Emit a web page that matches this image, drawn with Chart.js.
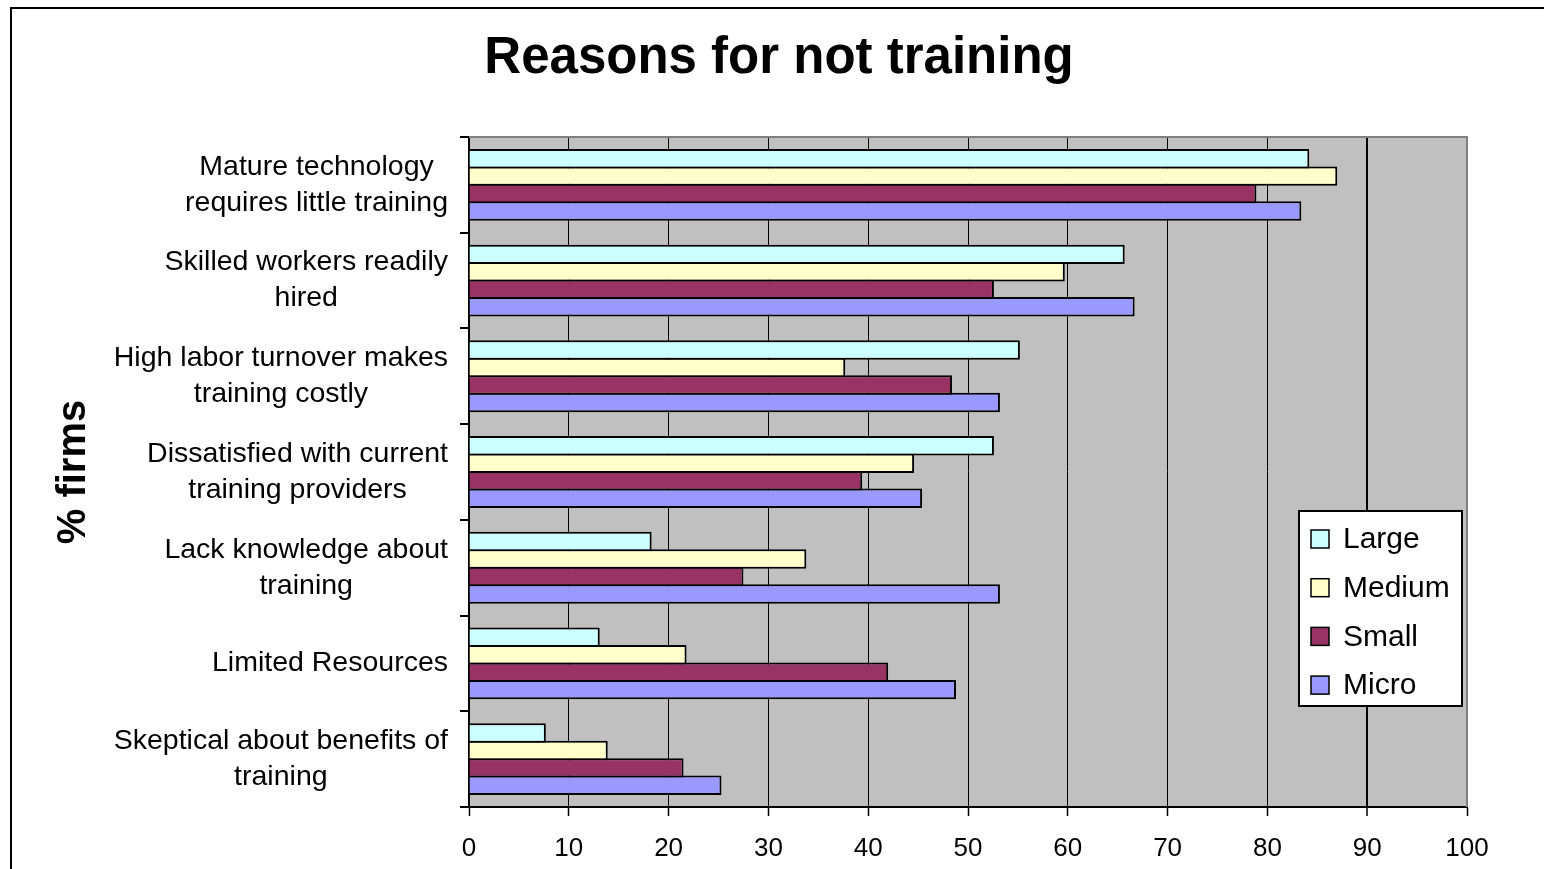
<!DOCTYPE html>
<html>
<head>
<meta charset="utf-8">
<title>Reasons for not training</title>
<script src="https://cdn.jsdelivr.net/npm/chart.js@4.4.1/dist/chart.umd.min.js"></script>
<style>
  html, body { margin: 0; padding: 0; background: #fff; }
  #wrap { width: 1544px; height: 869px; position: relative; }
</style>
</head>
<body>
<div id="wrap"><canvas id="reasonsChart" width="1544" height="869"></canvas></div>
<script>
// ── Data ─────────────────────────────────────────────────────────
const CHART_TITLE = 'Reasons for not training';
const REASONS = [
    ['Mature technology', 'requires little training'],
    ['Skilled workers readily', 'hired'],
    ['High labor turnover makes', 'training costly'],
    ['Dissatisfied with current', 'training providers'],
    ['Lack knowledge about', 'training'],
    ['Limited Resources'],
    ['Skeptical about benefits of', 'training']
];
const SERIES_NAMES = ['Large', 'Medium', 'Small', 'Micro'];
const LARGE  = [84.2, 65.7, 55.2, 52.6, 18.3, 13.1, 7.7];
const MEDIUM = [87.0, 59.7, 37.7, 44.6, 33.8, 21.8, 13.9];
const SMALL  = [78.9, 52.6, 48.4, 39.4, 27.5, 42.0, 21.5];
const MICRO  = [83.4, 66.7, 53.2, 45.4, 53.2, 48.8, 25.3];
const X_MIN = 0, X_MAX = 100, X_STEP = 10;

const COLORS = ['#CCFFFF', '#FFFFCC', '#993366', '#9999FF'];
const FONT = '"Liberation Sans", Arial, Helvetica, sans-serif';

// ── Plot frame: grey fill, outer border, grey top/right edge, title ──
const framePlugin = {
    id: 'frame',
    beforeDraw(chart) {
        const { ctx, chartArea: a } = chart;
        ctx.save();
        ctx.fillStyle = '#C0C0C0';
        ctx.fillRect(a.left, a.top, a.right - a.left, a.bottom - a.top);
        // outer chart border (left + top)
        ctx.strokeStyle = '#000';
        ctx.lineWidth = 2;
        ctx.beginPath();
        ctx.moveTo(11, chart.height);
        ctx.lineTo(11, 8);
        ctx.lineTo(chart.width, 8);
        ctx.stroke();
        // title, centred over the whole chart box
        ctx.fillStyle = '#000';
        ctx.font = 'bold 51px ' + FONT;
        ctx.textAlign = 'center';
        ctx.textBaseline = 'middle';
        ctx.fillText(CHART_TITLE, 779, 59);
        ctx.restore();
    },
    afterDatasetsDraw(chart) {
        const { ctx, chartArea: a } = chart;
        ctx.save();
        ctx.strokeStyle = '#808080';
        ctx.lineWidth = 2;
        ctx.beginPath();
        ctx.moveTo(a.left, a.top);
        ctx.lineTo(a.right, a.top);
        ctx.lineTo(a.right, a.bottom);
        ctx.stroke();
        ctx.restore();
    }
};

// ── Category labels: block right-aligned, lines centred ─────────
const categoryLabelPlugin = {
    id: 'categoryLabels',
    afterDraw(chart) {
        const { ctx } = chart;
        const scale = chart.scales.y;
        const right = chart.chartArea.left - 21;
        const lineH = 36;
        ctx.save();
        ctx.font = '28.5px ' + FONT;
        ctx.fillStyle = '#000';
        ctx.textAlign = 'center';
        ctx.textBaseline = 'middle';
        chart.data.labels.forEach((lines, i) => {
            const y = scale.getPixelForTick(i);
            const w = Math.max(...lines.map(l => ctx.measureText(l).width));
            const cx = right - w / 2;
            const y0 = y - (lines.length - 1) * lineH / 2;
            lines.forEach((l, j) => ctx.fillText(l, cx, y0 + j * lineH));
        });
        ctx.restore();
    }
};

// ── Boxed legend inside the plot area ───────────────────────────
const boxLegendPlugin = {
    id: 'boxLegend',
    afterDraw(chart) {
        const { ctx, chartArea: a } = chart;
        const w = 163, h = 195;
        const x = a.right - 5 - w, y = a.bottom - 101 - h;
        ctx.save();
        ctx.fillStyle = '#fff';
        ctx.fillRect(x, y, w, h);
        ctx.strokeStyle = '#000';
        ctx.lineWidth = 2;
        ctx.strokeRect(x, y, w, h);
        ctx.font = '30px ' + FONT;
        ctx.textBaseline = 'middle';
        ctx.textAlign = 'left';
        chart.data.datasets.forEach((ds, i) => {
            const cy = y + 28 + i * 48.7;
            ctx.fillStyle = ds.backgroundColor;
            ctx.fillRect(x + 12, cy - 9, 18, 18);
            ctx.lineWidth = 1.5;
            ctx.strokeRect(x + 12, cy - 9, 18, 18);
            ctx.fillStyle = '#000';
            ctx.fillText(ds.label, x + 44, cy + 1);
        });
        ctx.restore();
    }
};

const seriesData = [LARGE, MEDIUM, SMALL, MICRO];

new Chart(document.getElementById('reasonsChart'), {
    type: 'bar',
    data: {
        labels: REASONS,
        datasets: SERIES_NAMES.map((name, i) => ({
            label: name,
            data: seriesData[i],
            backgroundColor: COLORS[i],
            borderColor: '#000',
            borderWidth: 2,
            categoryPercentage: 0.73,
            barPercentage: 1.115
        }))
    },
    options: {
        indexAxis: 'y',
        responsive: false,
        animation: false,
        layout: { padding: { left: 10, right: 77, top: 137, bottom: 0 } },
        plugins: {
            legend: { display: false },
            tooltip: { enabled: false },
            title: { display: false }
        },
        scales: {
            x: {
                min: X_MIN, max: X_MAX,
                ticks: {
                    stepSize: X_STEP,
                    color: '#000',
                    padding: 17,
                    maxRotation: 0,
                    font: { family: FONT, size: 26 }
                },
                grid: {
                    color: c => c.tick && c.tick.value === X_MAX ? 'rgba(0,0,0,0)' : '#000',
                    lineWidth: c => c.tick && c.tick.value === 90 ? 2 : 1,
                    tickColor: '#000',
                    tickWidth: 1.5,
                    tickLength: 9
                },
                border: { color: '#000', width: 2 },
                afterFit(scale) { scale.height = 62; }
            },
            y: {
                ticks: { display: false },
                grid: {
                    drawOnChartArea: false,
                    drawTicks: true,
                    tickLength: 9,
                    color: '#000',
                    lineWidth: 2
                },
                border: { color: '#000', width: 2 },
                title: {
                    display: true,
                    text: '% firms',
                    color: '#000',
                    font: { family: FONT, size: 40, weight: 'bold', lineHeight: 1.2 },
                    padding: { top: 40, bottom: 0 }
                },
                afterFit(scale) { scale.width = 459; }
            }
        }
    },
    plugins: [framePlugin, categoryLabelPlugin, boxLegendPlugin]
});
</script>
</body>
</html>
